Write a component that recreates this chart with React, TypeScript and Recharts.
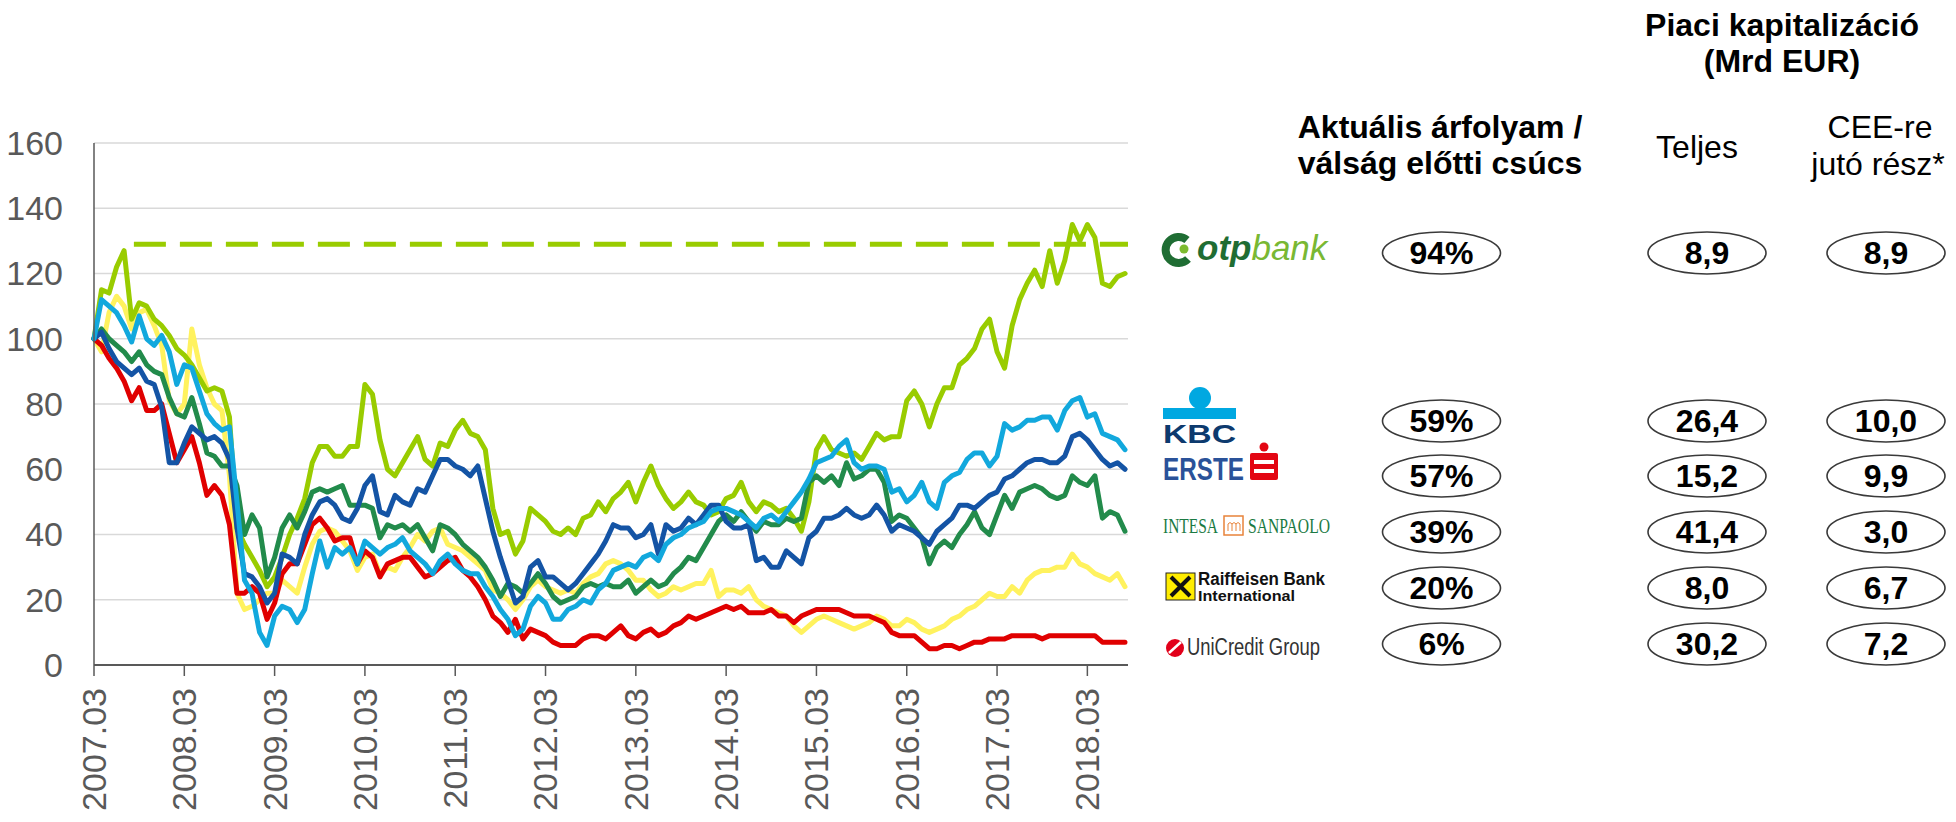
import React from 'react';
import { CartesianGrid, Line, LineChart, ReferenceLine, XAxis, YAxis } from 'recharts';

// monthly closes, index 0 = 2007.03, rebased to 100
const TICK_LABELS = [
  '2007.03', '2008.03', '2009.03', '2010.03', '2011.03', '2012.03',
  '2013.03', '2014.03', '2015.03', '2016.03', '2017.03', '2018.03',
];
const Y_TICKS = [0, 20, 40, 60, 80, 100, 120, 140, 160];

const OTP = [
  100, 115, 114, 122, 127, 106, 111, 110, 106, 104, 101, 97, 95, 92, 88, 84, 85, 84, 76, 42, 37, 33, 29, 24,
  27, 33, 40, 45, 51, 62, 67, 67, 64, 64, 67, 67, 86, 83, 69, 60, 58, 62, 66, 70, 63, 61, 68,
  67, 72, 75, 71, 70, 66, 48, 40, 41, 34, 38, 48, 46, 44, 41, 40, 42, 40, 45, 46, 50, 47, 51,
  53, 56, 50, 56, 61, 55, 51, 48, 50, 53, 50, 49, 46, 47, 51, 52, 56, 50, 47, 50, 49, 47, 48, 45,
  41, 50, 66, 70, 66, 65, 64, 65, 63, 67, 71, 69, 70, 70, 81, 84, 80, 73, 80, 85, 85, 92, 94,
  97, 103, 106, 96, 91, 104, 112, 117, 121, 116, 127, 117, 124, 135, 130, 135, 131, 117, 116, 119, 120,
];
const KBC = [
  100, 112, 110, 108, 104, 99, 107, 100, 98, 101, 96, 86, 92, 91, 84, 77, 74, 72, 73, 50, 26, 22, 10, 6,
  15, 18, 17, 13, 17, 28, 38, 30, 36, 34, 36, 31, 38, 36, 34, 36, 37, 39, 35, 33, 31, 28, 32,
  34, 31, 29, 28, 28, 24, 21, 17, 14, 9, 11, 18, 21, 19, 14, 14, 17, 18, 20, 19, 23, 25, 29,
  30, 31, 30, 33, 34, 32, 37, 39, 40, 42, 43, 44, 47, 48, 48, 47, 46, 44, 42, 45, 46, 44, 47, 50,
  53, 57, 62, 63, 64, 67, 69, 62, 60, 61, 61, 60, 53, 54, 50, 52, 56, 50, 48, 56, 58, 59, 63,
  65, 65, 61, 64, 74, 72, 73, 75, 75, 76, 76, 72, 78, 81, 82, 76, 77, 71, 70, 69, 66,
];
const ERSTE = [
  100, 102, 97, 93, 91, 89, 91, 87, 86, 79, 62, 62, 68, 73, 71, 69, 70, 68, 63, 42, 28, 27, 24, 19,
  22, 34, 33, 31, 40, 46, 50, 51, 49, 45, 44, 48, 55, 58, 47, 46, 52, 50, 49, 54, 53, 58, 63,
  63, 61, 60, 58, 61, 51, 41, 33, 26, 19, 21, 30, 32, 27, 27, 25, 23, 25, 28, 31, 34, 38, 43,
  42, 42, 39, 40, 43, 34, 43, 41, 42, 45, 43, 46, 49, 49, 44, 42, 42, 43, 32, 33, 30, 30, 35, 33,
  31, 39, 41, 45, 45, 46, 48, 46, 45, 46, 49, 46, 41, 43, 42, 41, 39, 37, 41, 43, 45, 49, 49,
  48, 50, 52, 53, 57, 58, 60, 62, 63, 63, 62, 62, 64, 70, 71, 69, 66, 63, 61, 62, 60,
];
const INTESA = [
  100, 103, 100, 98, 96, 93, 96, 92, 90, 89, 82, 77, 76, 82, 74, 65, 64, 61, 61, 55, 40, 46, 42, 27,
  33, 42, 46, 42, 47, 53, 54, 53, 54, 55, 49, 49, 49, 48, 39, 43, 42, 43, 41, 43, 39, 35, 43,
  42, 40, 37, 35, 33, 30, 26, 21, 25, 24, 22, 25, 28, 25, 21, 19, 20, 21, 24, 25, 24, 25, 24,
  24, 26, 22, 24, 26, 24, 25, 28, 30, 33, 32, 36, 40, 44, 46, 44, 47, 44, 41, 44, 43, 43, 45, 44,
  45, 56, 58, 56, 58, 55, 62, 57, 58, 60, 60, 56, 44, 46, 45, 42, 39, 31, 36, 38, 36, 40, 43,
  47, 42, 40, 46, 52, 48, 53, 54, 55, 54, 52, 51, 52, 58, 56, 55, 58, 45, 47, 46, 41,
];
const RBI = [
  100, 96, 108, 113, 110, 103, 108, 109, 104, 98, 81, 77, 80, 103, 92, 85, 80, 78, 58, 22, 17, 18, 20, 22,
  22, 26, 24, 22, 30, 37, 41, 42, 41, 38, 35, 29, 33, 34, 28, 30, 29, 33, 36, 40, 38, 41, 42,
  37, 36, 35, 33, 31, 29, 23, 22, 20, 17, 20, 24, 26, 24, 23, 22, 23, 22, 25, 27, 28, 31, 32,
  31, 29, 26, 26, 23, 21, 22, 24, 23, 24, 25, 25, 29, 21, 23, 23, 22, 24, 20, 18, 17, 16, 15, 12,
  10, 12, 14, 15, 14, 13, 12, 11, 12, 13, 15, 14, 12, 12, 14, 13, 11, 10, 11, 12, 14, 15, 17,
  18, 20, 22, 21, 21, 24, 22, 26, 28, 29, 29, 30, 30, 34, 31, 30, 28, 27, 26, 28, 24,
];
const UNICREDIT = [
  100, 98, 94, 91, 87, 81, 85, 78, 78, 80, 71, 62, 66, 70, 62, 52, 55, 52, 43, 22, 22, 24, 22, 14,
  19, 28, 31, 31, 37, 43, 45, 42, 38, 39, 39, 31, 35, 33, 27, 31, 32, 33, 33, 30, 27, 28, 30,
  32, 33, 29, 27, 24, 20, 15, 13, 10, 14, 8, 11, 10, 9, 7, 6, 6, 6, 8, 9, 9, 8, 10,
  12, 9, 8, 10, 11, 9, 10, 12, 13, 15, 14, 15, 16, 17, 18, 17, 18, 16, 16, 16, 17, 15, 15, 13,
  15, 16, 17, 17, 17, 17, 16, 15, 15, 15, 14, 13, 10, 9, 9, 9, 7, 5, 5, 6, 6, 5, 6,
  7, 7, 8, 8, 8, 9, 9, 9, 9, 8, 9, 9, 9, 9, 9, 9, 9, 7, 7, 7, 7,
];

// OTP pre-crisis peak (dashed)
const OTP_PEAK = 129;
const OTP_PEAK_FROM = 5.3;
const X_END = 137.4;

// table on the right
const RATIO_LABELS = ['94%', '59%', '57%', '39%', '20%', '6%'];
const TOTAL_CAP = ['8,9', '26,4', '15,2', '41,4', '8,0', '30,2'];
const CEE_CAP = ['8,9', '10,0', '9,9', '3,0', '6,7', '7,2'];

const SERIES = [
  { key: 'rbi', color: '#FFF25E', values: RBI },
  { key: 'otp', color: '#99CC00', values: OTP },
  { key: 'uni', color: '#E00000', values: UNICREDIT },
  { key: 'intesa', color: '#228B4B', values: INTESA },
  { key: 'erste', color: '#1454A5', values: ERSTE },
  { key: 'kbc', color: '#12A8DD', values: KBC },
];

const rows = OTP.map((_, i) => {
  const row: Record<string, number> = { m: i };
  SERIES.forEach((s) => {
    row[s.key] = s.values[i];
  });
  return row;
});

const FONT = "'Liberation Sans', Arial, sans-serif";
const GREY = '#595959';

function XTick(props: any) {
  const { x, y, payload } = props;
  const label = TICK_LABELS[Math.round(payload.value / 12)];
  return (
    <g transform={`translate(${x},${y})`}>
      <text transform='rotate(-90)' textAnchor='end' dy='0.35em' fontSize={34} fill={GREY} fontFamily={FONT}>
        {label}
      </text>
    </g>
  );
}

function YTick(props: any) {
  const { x, y, payload } = props;
  return (
    <text x={x} y={y} textAnchor='end' dy='0.35em' fontSize={34} fill={GREY} fontFamily={FONT}>
      {payload.value}
    </text>
  );
}

function Oval({ cx, cy, text }: { cx: number; cy: number; text: string }) {
  return (
    <g>
      <ellipse cx={cx} cy={cy} rx={59} ry={21} fill='#fff' stroke='#3a3a3a' strokeWidth={1.6} />
      <text x={cx} y={cy + 11} textAnchor='middle' fontSize={32} fontWeight='bold' fontFamily={FONT} fill='#000'>
        {text}
      </text>
    </g>
  );
}

function Logos() {
  return (
    <g fontFamily={FONT}>
      {/* otp bank */}
      <path d='M1187,240 A13,13 0 1 0 1188,259' fill='none' stroke='#1F6D33' strokeWidth={8} />
      <circle cx={1184} cy={249} r={4.5} fill='#7DBB2F' />
      <text x={1197} y={260} fontSize={35} fontStyle='italic'>
        <tspan fill='#1F6D33' fontWeight='bold'>otp</tspan>
        <tspan fill='#79B833'>bank</tspan>
      </text>

      {/* KBC */}
      <circle cx={1200} cy={398} r={11} fill='#00A8E1' />
      <rect x={1163} y={408} width={73} height={11} fill='#00A8E1' />
      <text x={1163} y={443} fontSize={25} fontWeight='bold' fill='#0D3A6E' textLength={73} lengthAdjust='spacingAndGlyphs'>
        KBC
      </text>

      {/* Erste */}
      <text x={1163} y={480} fontSize={32} fontWeight='bold' fill='#2A5299' textLength={81} lengthAdjust='spacingAndGlyphs'>
        ERSTE
      </text>
      <circle cx={1264} cy={447} r={4.5} fill='#E30613' />
      <rect x={1250} y={453} width={28} height={27} rx={2} fill='#E30613' />
      <rect x={1254} y={460} width={20} height={4} fill='#fff' />
      <rect x={1254} y={469} width={20} height={4} fill='#fff' />

      {/* Intesa Sanpaolo */}
      <text x={1163} y={533} fontSize={22} fontFamily="'Liberation Serif', serif" fill='#1B7A43' textLength={55} lengthAdjust='spacingAndGlyphs'>
        INTESA
      </text>
      <rect x={1224} y={516} width={19} height={19} fill='#fff' stroke='#E8833A' strokeWidth={1.5} />
      <path d='M1228,531 V524 Q1230,521 1232,524 V531 M1232,524 Q1234,521 1236,524 V531 M1236,524 Q1238,521 1240,524 V531' fill='none' stroke='#E8833A' strokeWidth={1} />
      <text x={1248} y={533} fontSize={22} fontFamily="'Liberation Serif', serif" fill='#1B7A43' textLength={82} lengthAdjust='spacingAndGlyphs'>
        SANPAOLO
      </text>

      {/* Raiffeisen */}
      <rect x={1166} y={573} width={29} height={27} fill='#FFED00' stroke='#222' strokeWidth={1} />
      <path d='M1171,596 L1190,577 M1171,577 L1190,596' stroke='#111' strokeWidth={4} />
      <text x={1198} y={585} fontSize={18} fontWeight='bold' fill='#111' textLength={127} lengthAdjust='spacingAndGlyphs'>
        Raiffeisen Bank
      </text>
      <text x={1198} y={601} fontSize={14} fontWeight='bold' fill='#111' textLength={97} lengthAdjust='spacingAndGlyphs'>
        International
      </text>

      {/* UniCredit */}
      <circle cx={1175} cy={648} r={9} fill='#E2001A' />
      <path d='M1169,653 L1181,642' stroke='#fff' strokeWidth={2.5} />
      <text x={1187} y={655} fontSize={23} fill='#333' textLength={133} lengthAdjust='spacingAndGlyphs'>
        UniCredit Group
      </text>
    </g>
  );
}

function Table() {
  const rowY = [253, 421, 476, 532, 588, 644];
  return (
    <svg width={1956} height={822} style={{ position: 'absolute', left: 0, top: 0, pointerEvents: 'none' }}>
      <g fontFamily={FONT} fontSize={32} fill='#000' textAnchor='middle'>
        <text x={1782} y={36} fontWeight='bold'>Piaci kapitalizáció</text>
        <text x={1782} y={72} fontWeight='bold'>(Mrd EUR)</text>
        <text x={1440} y={138} fontWeight='bold'>Aktuális árfolyam /</text>
        <text x={1440} y={174} fontWeight='bold'>válság előtti csúcs</text>
        <text x={1697} y={158}>Teljes</text>
        <text x={1880} y={138}>CEE-re</text>
        <text x={1878} y={175}>jutó rész*</text>
      </g>
      <Logos />
      {rowY.map((cy, i) => (
        <g key={i}>
          <Oval cx={1441.5} cy={cy} text={RATIO_LABELS[i]} />
          <Oval cx={1707} cy={cy} text={TOTAL_CAP[i]} />
          <Oval cx={1886} cy={cy} text={CEE_CAP[i]} />
        </g>
      ))}
    </svg>
  );
}

export default function App() {
  return (
    <div style={{ position: 'absolute', left: 0, top: 0, width: 1956, height: 822, background: '#fff', overflow: 'hidden' }}>
      <LineChart width={1140} height={822} data={rows} margin={{ top: 143, right: 12, bottom: 0, left: 0 }}>
        <CartesianGrid vertical={false} stroke='#D9D9D9' strokeWidth={1.5} />
        <XAxis
          dataKey='m'
          type='number'
          domain={[0, X_END]}
          ticks={TICK_LABELS.map((_, i) => i * 12)}
          height={157}
          tickSize={11}
          tickMargin={12}
          tick={<XTick />}
          axisLine={{ stroke: GREY, strokeWidth: 2 }}
          tickLine={{ stroke: GREY, strokeWidth: 1.5 }}
          interval={0}
        />
        <YAxis
          domain={[0, 160]}
          ticks={Y_TICKS}
          width={94}
          tickSize={0}
          tickMargin={31}
          tick={<YTick />}
          axisLine={{ stroke: GREY, strokeWidth: 1.5 }}
          tickLine={false}
          interval={0}
        />
        <ReferenceLine
          segment={[{ x: OTP_PEAK_FROM, y: OTP_PEAK }, { x: X_END, y: OTP_PEAK }]}
          stroke='#99CC00'
          strokeWidth={5}
          strokeDasharray='32 14'
        />
        {SERIES.map((s) => (
          <Line
            key={s.key}
            type='linear'
            dataKey={s.key}
            stroke={s.color}
            strokeWidth={5}
            strokeLinejoin='round'
            strokeLinecap='round'
            dot={false}
            isAnimationActive={false}
          />
        ))}
      </LineChart>
      <Table />
    </div>
  );
}
